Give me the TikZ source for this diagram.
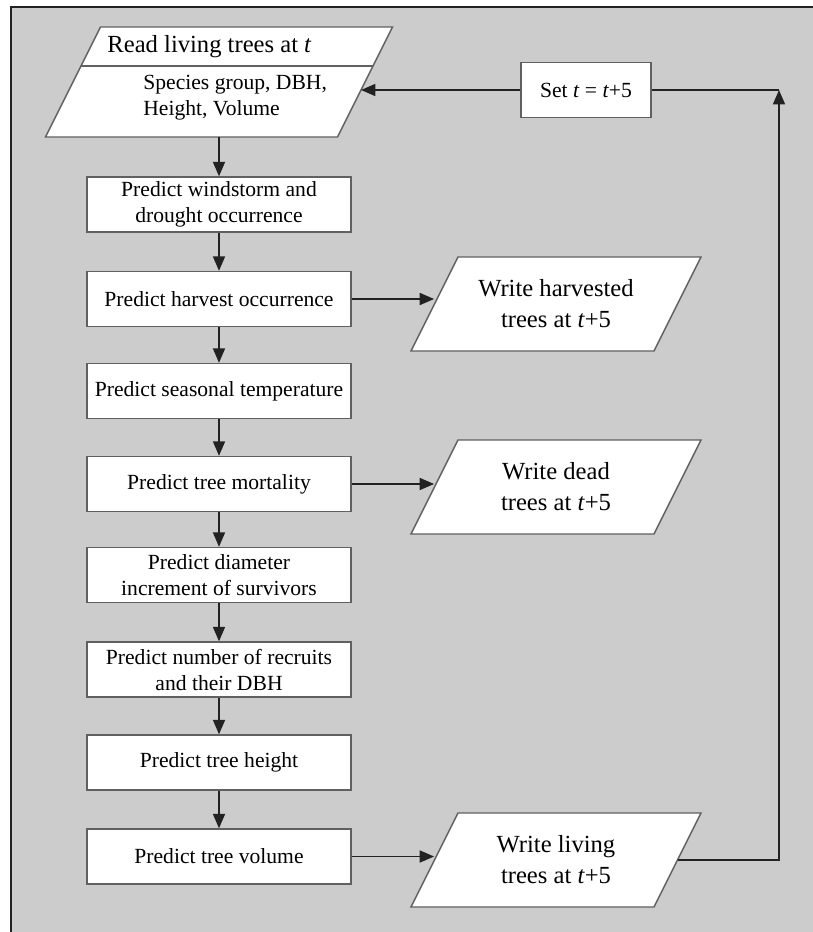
\documentclass[tikz,border=0pt]{standalone}
\usepackage{fontspec}
\setmainfont{Liberation Serif}
\usepackage{xcolor}
\usetikzlibrary{arrows.meta}

\definecolor{bggray}{HTML}{CCCCCC}
\definecolor{edgegray}{HTML}{606060}
\definecolor{linedark}{HTML}{222222}

% parallelogramma: centro, lato, altezza
\newcommand{\iopara}[4]{\filldraw[iobox] (#1,#2) ++({-#3/2+#4/4},{-#4/2}) -- ++(#3,0) -- ++({-#4/2},#4) -- ++(-#3,0) -- cycle;}

\begin{document}
\begin{tikzpicture}[x=0.5pt, y=-0.5pt,
    proc/.style={draw=edgegray, line width=0.7pt, fill=white, minimum width=132pt, minimum height=27.5pt, inner sep=0pt, align=center, font=\fontsize{10.8}{13}\selectfont},
    iobox/.style={draw=edgegray, line width=0.7pt, fill=white},
    io/.style={minimum width=121.5pt, minimum height=47pt, inner sep=0pt, align=center, font=\fontsize{12.3}{15.5}\selectfont},
    arr/.style={draw=linedark, line width=0.8pt, -{Triangle[length=7.2pt,width=6pt]}}]

    \clip (0,0) rectangle (813,932);

    % Sfondo
    \fill[bggray] (11,7) rectangle (840,960);
    \draw[linedark, line width=0.6pt] (11,960) -- (11,7) -- (840,7);

    % Lettura
    \iopara{219}{82}{292}{110}
    \draw[edgegray, line width=0.7pt] (81,66) -- (373,66);
    \node[minimum width=146pt, minimum height=55pt, inner sep=0pt] (rd) at (219,82) {};
    \node[font=\fontsize{12.3}{15.5}\selectfont, inner sep=0pt] (rdtitle) at (209.5,47) {Read living trees at \textit{t}};
    \node[font=\fontsize{10.8}{13}\selectfont, inner sep=0pt, anchor=west, align=left] (rdattr) at (143,97.5) {Species group, DBH,\\Height, Volume};
    \coordinate (rdin) at (361,90);

    % Passi
    \node[proc] (p1) at (219,204.5) {Predict windstorm and\\drought occurrence};
    \node[proc] (p2) at (219,299) {Predict harvest occurrence};
    \node[proc] (p3) at (219,391) {Predict seasonal temperature};
    \node[proc] (p4) at (219,484) {Predict tree mortality};
    \node[proc] (p5) at (219,575) {Predict diameter\\increment of survivors};
    \node[proc] (p6) at (219,669.5) {Predict number of recruits\\and their DBH};
    \node[proc] (p7) at (219,762.5) {Predict tree height};
    \node[proc] (p8) at (219,856.5) {Predict tree volume};

    \foreach \a/\b in {rd/p1, p1/p2, p2/p3, p3/p4, p4/p5, p5/p6, p6/p7, p7/p8}
        \draw[arr] (\a.south) -- (\b.north);

    % Scrittura
    \iopara{556}{304}{243}{94}
    \iopara{556}{487}{243}{94}
    \iopara{556}{860}{243}{94}
    \node[io] (wh) at (556,304) {Write harvested\\trees at \textit{t}+5};
    \node[io] (wd) at (556,487) {Write dead\\trees at \textit{t}+5};
    \node[io] (wl) at (556,860) {Write living\\trees at \textit{t}+5};

    \draw[arr] (p2.east) -- (p2.east -| wh.west);
    \draw[arr] (p4.east) -- (p4.east -| wd.west);
    \draw[arr] (p8.east) -- (p8.east -| wl.west);

    % Ciclo
    \node[proc, minimum width=65pt] (set) at (586,90) {Set \textit{t} = \textit{t}+5};
    \coordinate (corner) at (779,90);
    \draw[arr] (wl.east) -| (corner);
    \draw[draw=linedark, line width=0.8pt] (corner) -- (set.east);
    \draw[arr] (set.west) -- (set.west -| rdin);
\end{tikzpicture}
\end{document}
